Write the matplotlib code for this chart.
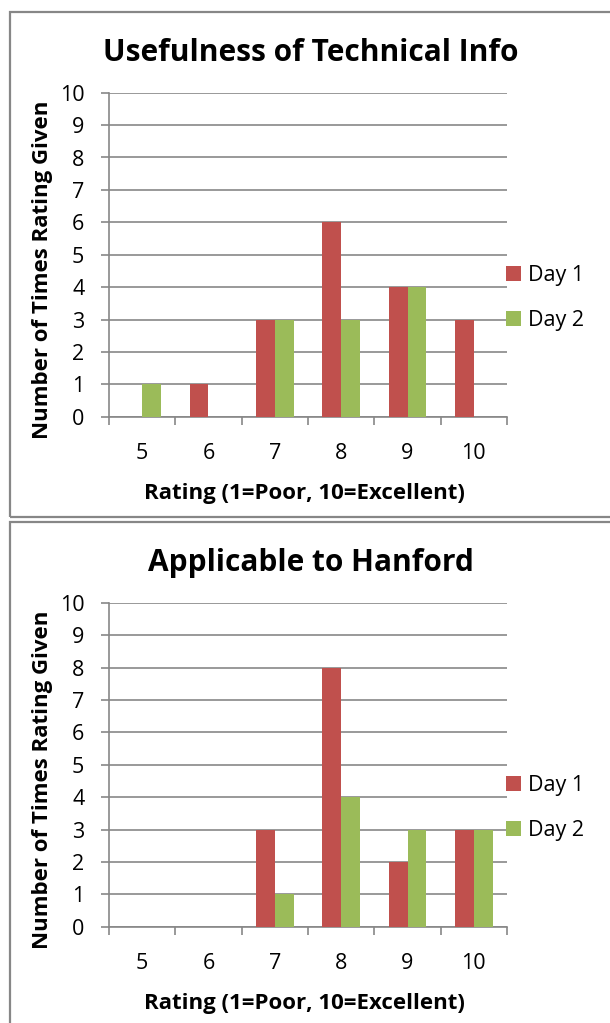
import numpy as np
import matplotlib.pyplot as plt
from matplotlib.patches import Rectangle

plt.rcParams['font.family'] = ['Open Sans', 'DejaVu Sans']

ratings = ['5', '6', '7', '8', '9', '10']
titles = ['Usefulness of Technical Info', 'Applicable to Hanford']
day1_tech = [0, 1, 3, 6, 4, 3]
day2_tech = [1, 0, 3, 3, 4, 0]
day1_hanford = [0, 0, 3, 8, 2, 3]
day2_hanford = [0, 0, 1, 4, 3, 3]

red = '#C0504D'
green = '#9BBB59'
grey = '#878787'

W, H = 610, 1023
fig = plt.figure(figsize=(W / 100, H / 100), dpi=100)

def fx(px):
    return px / W

def fy(py):
    return 1 - py / H

panels = [(titles[0], day1_tech, day2_tech, 0),
          (titles[1], day1_hanford, day2_hanford, 510)]

x = np.arange(len(ratings))
bw = 1 / 3.5

for title, d1, d2, off in panels:
    # chart frame
    top = 12 + off
    bot = 517 + off if off == 0 else H + 5
    fig.patches.append(Rectangle((fx(9.5), fy(bot)), fx(620) - fx(9.5), fy(top) - fy(bot),
                                 transform=fig.transFigure, fill=False,
                                 edgecolor=grey, linewidth=1.6))

    ax = fig.add_axes([fx(109), fy(416.7 + off), fx(507) - fx(109), (416.7 - 92.7) / H])
    ax.bar(x - bw / 2, d1, bw, color=red, label='Day 1', zorder=3)
    ax.bar(x + bw / 2, d2, bw, color=green, label='Day 2', zorder=3)

    ax.set_xlim(-0.5, len(ratings) - 0.5)
    ax.set_ylim(0, 10)
    ax.set_yticks(range(0, 11))
    ax.yaxis.grid(True, color=grey, linewidth=1.2, zorder=0)
    ax.set_xticks(np.arange(len(ratings) + 1) - 0.5)
    ax.set_xticklabels([])
    ax.set_xticks(x, minor=True)
    ax.set_xticklabels(ratings, minor=True)
    ax.tick_params(axis='x', which='minor', length=0, labelsize=15.5, pad=19)
    ax.tick_params(axis='x', which='major', length=5.8, width=1.2, color=grey)
    ax.tick_params(axis='y', length=5.8, width=1.2, color=grey, labelsize=15.5, pad=12)
    for s in ['top', 'right']:
        ax.spines[s].set_visible(False)
    for s in ['left', 'bottom']:
        ax.spines[s].set_color(grey)
        ax.spines[s].set_linewidth(1.2)

    fig.text(fx(311), fy(53 + off), title, ha='center', va='center',
             fontsize=21.5, fontweight='bold')
    fig.text(fx(304), fy(493 + off), 'Rating (1=Poor, 10=Excellent)', ha='center',
             va='center', fontsize=16, fontweight='bold')
    fig.text(fx(43), fy(270 + off), 'Number of Times Rating Given', ha='center',
             va='center', rotation=90, fontsize=16, fontweight='bold')

    ax.legend(loc='center left', bbox_to_anchor=(fx(506), fy(298 + off)),
              bbox_transform=fig.transFigure, frameon=False, fontsize=15.5,
              handlelength=0.68, handleheight=0.68, handletextpad=0.35,
              labelspacing=1.1, borderaxespad=0, borderpad=0)

fig.savefig('out.png', dpi=100)
